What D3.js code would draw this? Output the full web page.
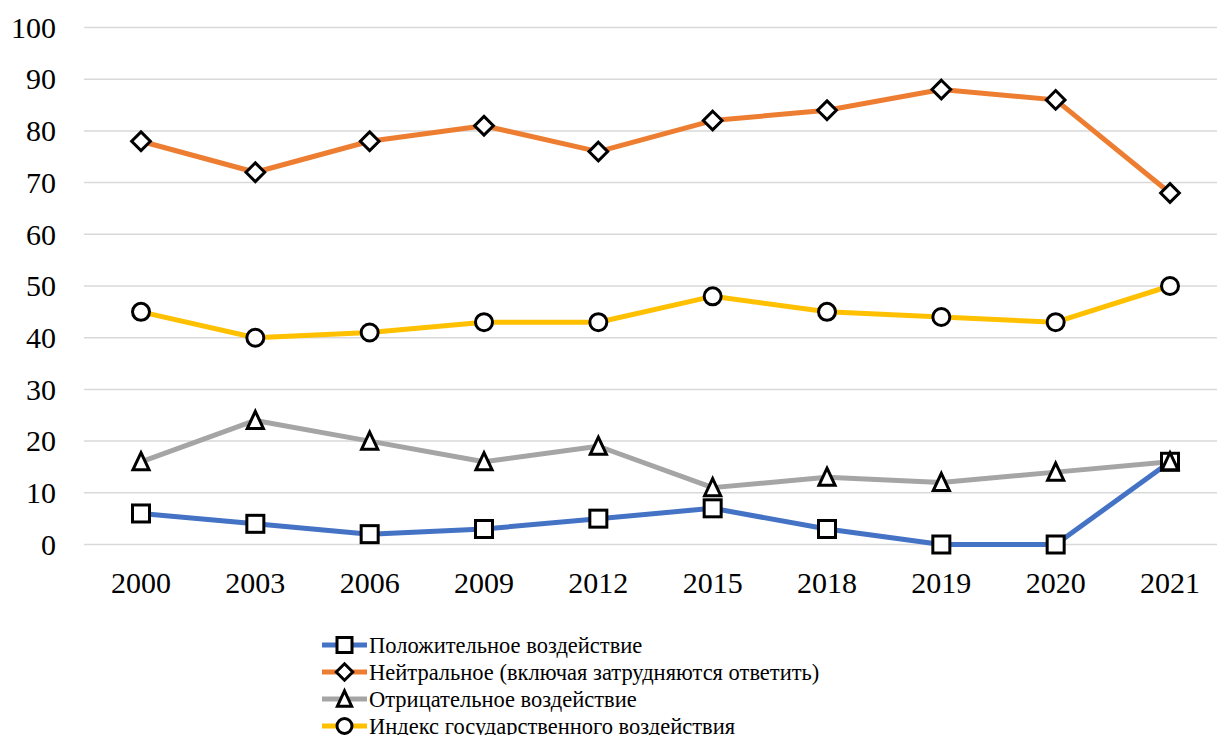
<!DOCTYPE html>
<html>
<head>
<meta charset="utf-8">
<script src="https://cdn.jsdelivr.net/npm/d3@7/dist/d3.min.js"></script>
<style>
  html, body { margin: 0; padding: 0; background: #fff; }
  svg { display: block; }
  svg text { font-family: "Liberation Serif", "Times New Roman", serif !important; }
</style>
</head>
<body>
<svg id="chart" width="1217" height="735" font-family="Liberation Serif"></svg>
<script>
// Survey years
const years = ["2000", "2003", "2006", "2009", "2012", "2015", "2018", "2019", "2020", "2021"];

// Shares of respondents, %
const positive = [6, 4, 2, 3, 5, 7, 3, 0, 0, 16];
const neutral  = [78, 72, 78, 81, 76, 82, 84, 88, 86, 68];
const negative = [16, 24, 20, 16, 19, 11, 13, 12, 14, 16];
const stateIndex = [45, 40, 41, 43, 43, 48, 45, 44, 43, 50];

const yTicks = [0, 10, 20, 30, 40, 50, 60, 70, 80, 90, 100];

const seriesNames = [
  "Положительное воздействие",
  "Нейтральное (включая затрудняются ответить)",
  "Отрицательное воздействие",
  "Индекс государственного воздействия"
];

const series = [
  { name: seriesNames[0], values: positive,   color: "#4472C4", marker: "square" },
  { name: seriesNames[1], values: neutral,    color: "#ED7D31", marker: "diamond" },
  { name: seriesNames[2], values: negative,   color: "#A5A5A5", marker: "triangle" },
  { name: seriesNames[3], values: stateIndex, color: "#FFC000", marker: "circle" }
];

const FONT = "Liberation Serif";

const svg = d3.select("#chart");

const x = d3.scalePoint().domain(years).range([141, 1170]);
const y = d3.scaleLinear().domain([0, 100]).range([544.5, 27.5]);

// Horizontal gridlines
svg.append("g")
  .selectAll("line")
  .data(yTicks)
  .join("line")
  .attr("x1", 84).attr("x2", 1217)
  .attr("y1", d => y(d)).attr("y2", d => y(d))
  .attr("stroke", "#D9D9D9").attr("stroke-width", 1.5);

// Y axis labels
svg.append("g")
  .selectAll("text")
  .data(yTicks)
  .join("text")
  .attr("x", 56).attr("y", d => y(d))
  .attr("dy", "0.34em")
  .attr("text-anchor", "end")
  .attr("font-family", FONT)
  .attr("font-size", 30)
  .text(d => d);

// X axis labels
svg.append("g")
  .selectAll("text")
  .data(years)
  .join("text")
  .attr("x", d => x(d)).attr("y", 583)
  .attr("dy", "0.34em")
  .attr("text-anchor", "middle")
  .attr("font-family", FONT)
  .attr("font-size", 30)
  .text(d => d);

// Marker drawing helper
function drawMarker(g, type, cx, cy, s) {
  const common = sel => sel.attr("fill", "#fff").attr("stroke", "#000").attr("stroke-width", 3);
  if (type === "square") {
    common(g.append("rect")
      .attr("x", cx - s / 2).attr("y", cy - s / 2)
      .attr("width", s).attr("height", s));
  } else if (type === "diamond") {
    const r = s * 0.55;
    common(g.append("path")
      .attr("d", `M${cx},${cy - r}L${cx + r},${cy}L${cx},${cy + r}L${cx - r},${cy}Z`));
  } else if (type === "triangle") {
    const h = s * 0.95, w = s * 0.95;
    common(g.append("path")
      .attr("d", `M${cx},${cy - h / 2 - 1}L${cx + w / 2},${cy + h / 2}L${cx - w / 2},${cy + h / 2}Z`))
      .attr("stroke-linejoin", "miter");
  } else {
    common(g.append("circle").attr("cx", cx).attr("cy", cy).attr("r", s / 2));
  }
}

const line = d3.line()
  .x((d, i) => x(years[i]))
  .y(d => y(d));

// Lines, then markers
series.forEach(s => {
  svg.append("path")
    .datum(s.values)
    .attr("d", line)
    .attr("fill", "none")
    .attr("stroke", s.color)
    .attr("stroke-width", 5)
    .attr("stroke-linejoin", "round");
});
series.forEach(s => {
  const g = svg.append("g");
  s.values.forEach((v, i) => drawMarker(g, s.marker, x(years[i]), y(v), 17));
});

// Legend
const legend = svg.append("g");
series.forEach((s, i) => {
  const cy = 645 + i * 27;
  legend.append("line")
    .attr("x1", 322).attr("x2", 367)
    .attr("y1", cy).attr("y2", cy)
    .attr("stroke", s.color).attr("stroke-width", 5);
  drawMarker(legend, s.marker, 344.5, cy, 15);
  legend.append("text")
    .attr("x", 369).attr("y", cy)
    .attr("dy", "0.34em")
    .attr("font-family", FONT)
    .attr("font-size", 22.5)
    .text(s.name);
});
</script>
</body>
</html>
